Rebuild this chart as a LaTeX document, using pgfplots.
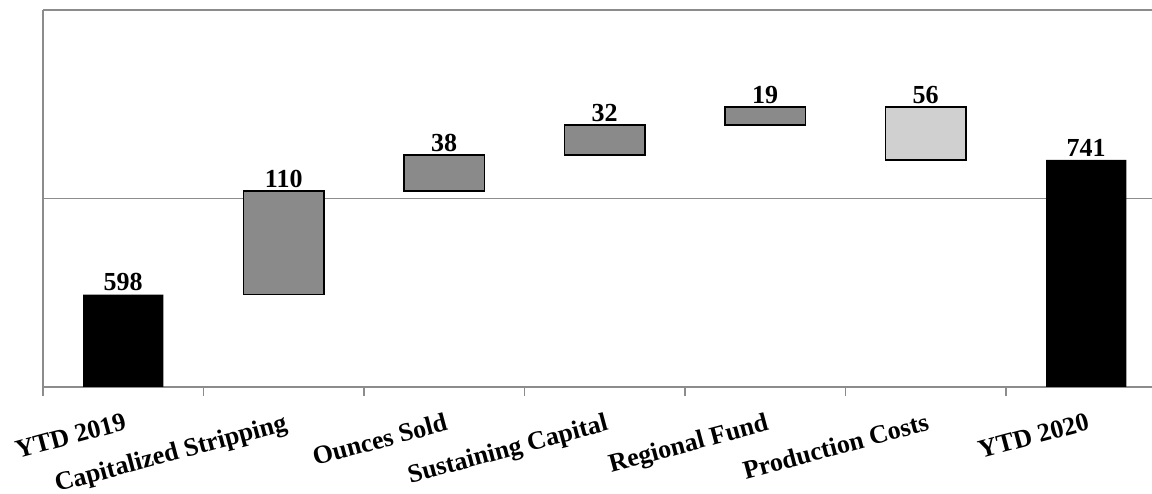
\documentclass[border=0pt]{standalone}
\usepackage{fontspec}
\setmainfont{Liberation Serif}
\usepackage{pgfplots}
\usepackage{pgfplotstable}
\pgfplotsset{compat=1.18}

\definecolor{axisgray}{HTML}{8C8C8C}
\definecolor{risegray}{HTML}{8A8A8A}
\definecolor{fallgray}{HTML}{D0D0D0}

% Waterfall bridge: invisible base + one segment per category
\pgfplotstableread{
x base total rise fall top label
0 0   598 0   0  598 598
1 598 0   110 0  708 110
2 708 0   38  0  746 38
3 746 0   32  0  778 32
4 778 0   19  0  797 19
5 741 0   0   56 797 56
6 0   741 0   0  741 741
}\bridge

\newcommand{\labelfont}{\bfseries\fontsize{19.5}{20}\selectfont}

\pgfplotsset{bridgeframe/.style={
  at={(0,0)}, anchor=south west,
  scale only axis, width=831.75pt, height=282.75pt,
  xmin=-0.5, xmax=6.41, ymin=500, ymax=900,
}}

\begin{document}
\begin{tikzpicture}
\begin{axis}[
  bridgeframe,
  ybar stacked, bar width=0.5,
  axis lines*=left,
  axis line style={axisgray, line width=1.4pt, -},
  ytick={500,700,900}, yticklabels={},
  ymajorgrids, grid style={axisgray, line width=1.1pt},
  major tick length=0pt,
  xtick={0,...,6},
  xticklabels={YTD 2019, Capitalized Stripping, Ounces Sold, Sustaining Capital, Regional Fund, Production Costs, YTD 2020},
  minor xtick={-0.5,0.5,...,5.5},
  minor tick length=6.5pt, tick align=outside,
  minor tick style={axisgray, line width=1pt},
  xticklabel style={font=\labelfont, inner sep=0pt, yshift=-19pt, rotate=15, anchor=north east},
]
\addplot[draw=none, fill=none] table[x=x, y=base] {\bridge};
\addplot[fill=black, draw=none] table[x=x, y=total] {\bridge};
\addplot[fill=risegray, draw=black, line width=1.1pt] table[x=x, y=rise] {\bridge};
\addplot[fill=fallgray, draw=black, line width=1.1pt] table[x=x, y=fall] {\bridge};
\end{axis}
% value labels above each bar
\begin{axis}[bridgeframe, hide axis, clip=false]
\addplot[only marks, mark=none, nodes near coords, point meta=explicit symbolic,
  nodes near coords style={font=\labelfont, anchor=south, inner sep=0pt, yshift=2.5pt, text=black}]
  table[x=x, y=top, meta=label] {\bridge};
\end{axis}
\pgfresetboundingbox
\path (-32.25pt,-79.5pt) rectangle (831.75pt,290.25pt);
\end{tikzpicture}
\end{document}
